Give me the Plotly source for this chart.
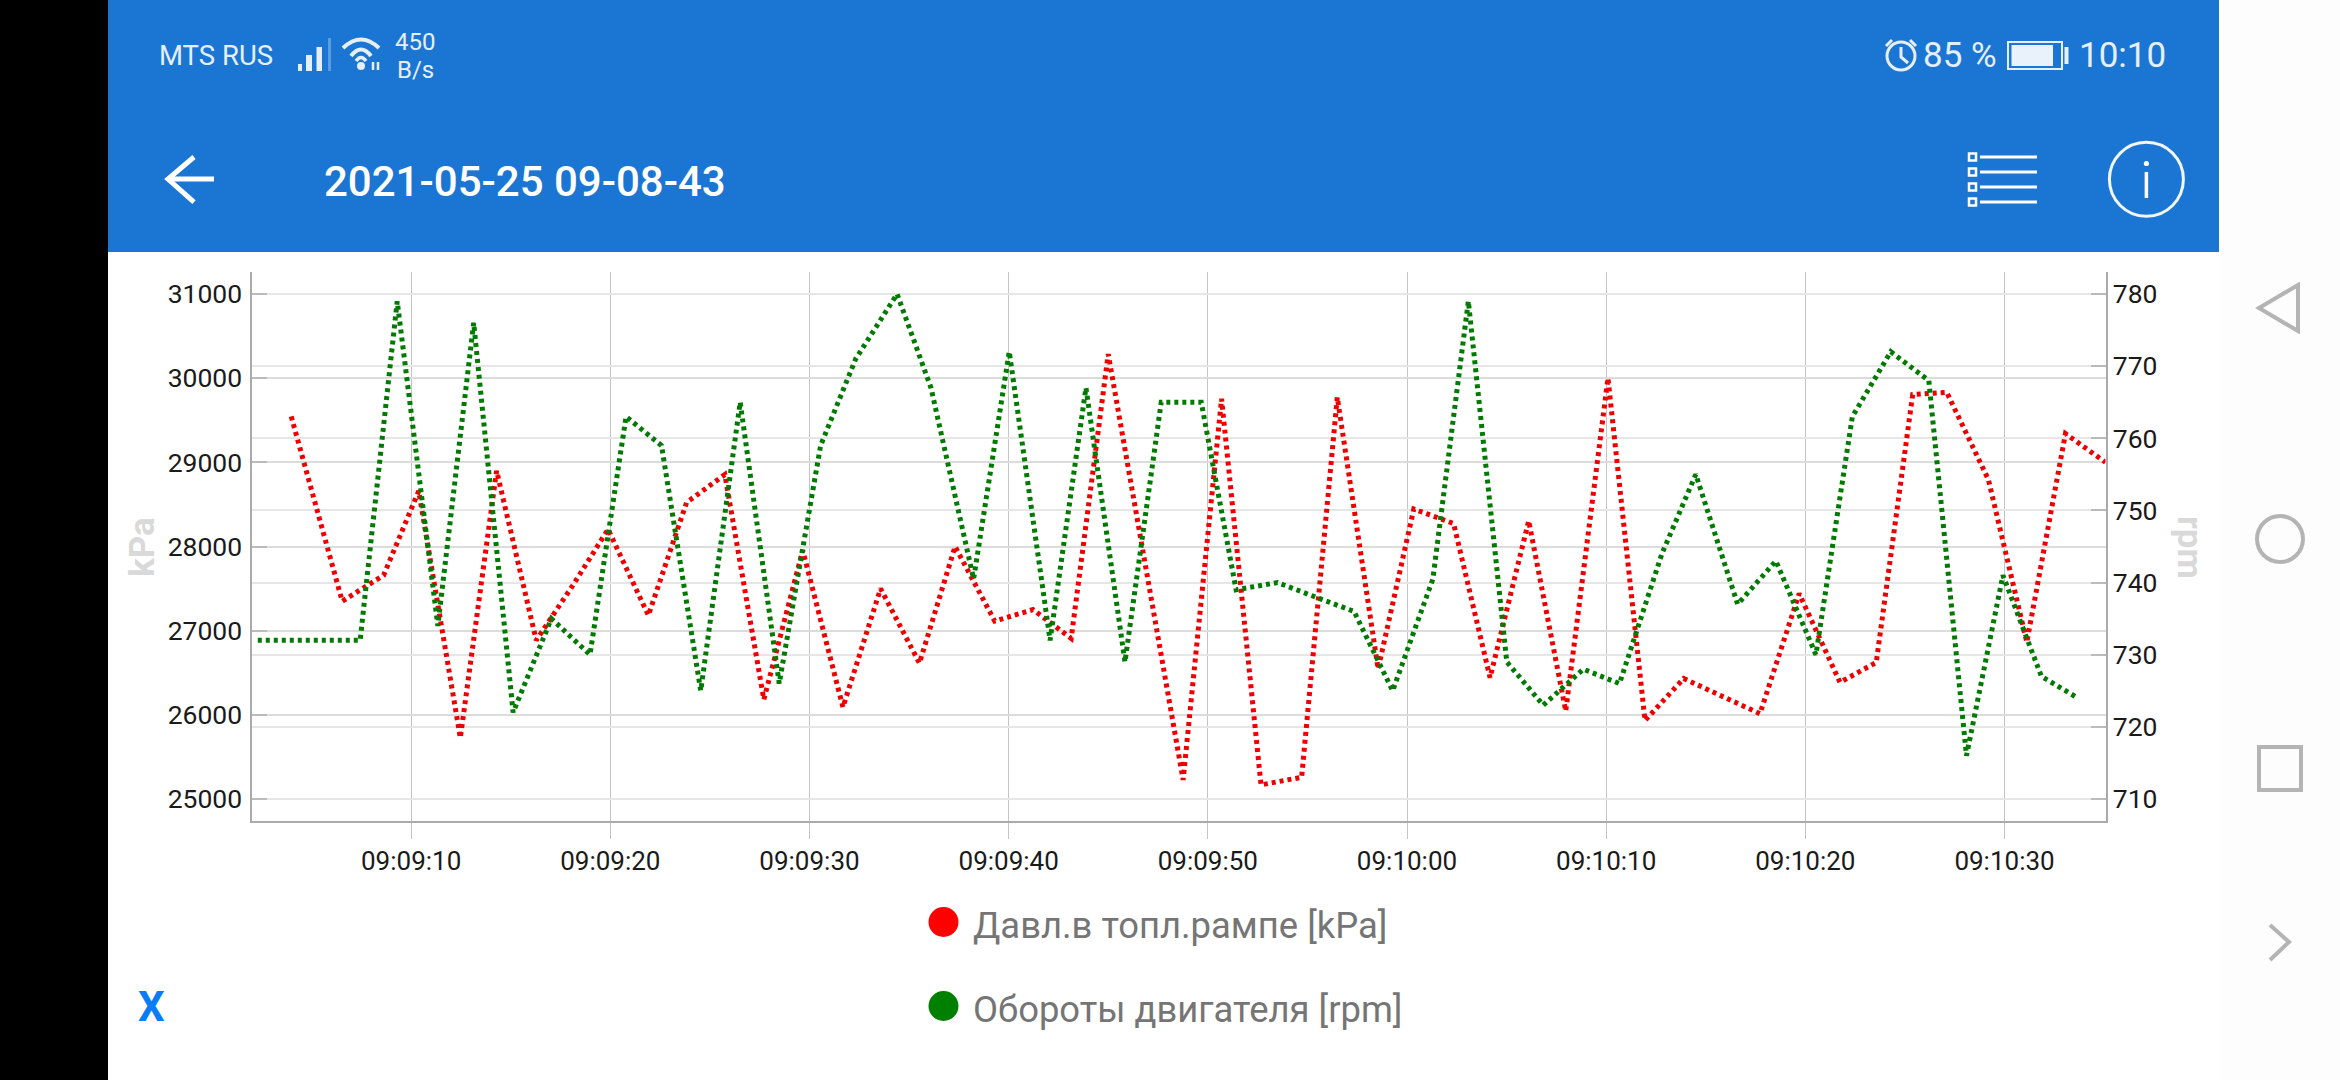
import datetime as dt
import plotly.graph_objects as go

# --- data ---
red_name = "Давл.в топл.рампе [kPa]"
green_name = "Обороты двигателя [rpm]"
red_seconds = [3.98, 6.54, 8.62, 10.38, 12.47, 14.29, 16.28, 18.1, 19.89, 21.91, 23.83, 25.75, 27.71, 29.66,
               31.68, 33.57, 35.52, 37.31, 39.3, 41.22, 43.14, 45.0, 46.9, 48.76, 50.69, 52.67, 54.71, 56.5,
               58.55, 60.34, 62.34, 64.17, 66.11, 67.97, 70.09, 71.95, 73.89, 75.8, 77.72, 79.69, 81.74, 83.56,
               85.39, 87.1, 89.19, 91.12, 93.06, 95.07]
red_values = [29545, 27350, 27659, 28659, 25727, 28900, 26886, 27532, 28205, 27182, 28523, 28855, 26182, 27955,
              26091, 27500, 26614, 28000, 27114, 27250, 26909, 30286, 27730, 25227, 29755, 25168, 25259, 29773,
              26545, 28445, 28273, 26441, 28305, 26045, 30000, 25932, 26432, 26227, 26014, 27441, 26386, 26623,
              29805, 29832, 28795, 26864, 29341, 29000]
green_seconds = [2.3, 4.0, 5.7, 7.44, 9.3, 11.34, 13.14, 15.12, 17.04, 18.98, 20.79, 22.57, 24.54, 26.52, 28.48,
                 30.56, 32.32, 34.4, 36.1, 38.24, 40.03, 42.08, 43.88, 45.84, 47.66, 49.67, 51.42, 53.5, 55.4,
                 57.34, 59.28, 61.3, 63.08, 65.01, 66.84, 68.85, 70.67, 72.8, 74.5, 76.6, 78.52, 80.53, 82.36,
                 84.29, 86.2, 88.09, 89.92, 91.85, 93.68]
green_values = [732, 732, 732, 732, 779, 734, 776, 722, 735, 730, 763, 759, 725, 765, 726,
                759, 771, 780, 767, 740.5, 772, 732, 767, 729, 765, 765, 739, 740, 738,
                736, 725, 740.5, 779, 729, 723, 728, 726, 744, 755, 737, 743, 730, 763,
                772, 768, 716, 741, 727, 724]
left_ticks = [25000, 26000, 27000, 28000, 29000, 30000, 31000]
right_ticks = [710, 720, 730, 740, 750, 760, 770, 780]
tick_seconds = [10, 20, 30, 40, 50, 60, 70, 80, 90]

W, H = 2340, 1080
BASE = dt.datetime(2021, 5, 25, 9, 9, 0)
def t(s):
    return BASE + dt.timedelta(seconds=s)
def X(x):
    return x / W
def Y(y):
    return 1 - y / H

BLUE = "#1b76d3"
ICON = "#e6eff9"
NAV = "#b4b4b4"
shapes = []
def rect(x0, y0, x1, y1, fill, line=None, lw=0):
    shapes.append(dict(type="rect", xref="paper", yref="paper", x0=X(x0), x1=X(x1), y0=Y(y0), y1=Y(y1),
                       fillcolor=fill, line=dict(color=line or fill, width=lw)))
def circle(cx, cy, r, fill=None, line=None, lw=0):
    shapes.append(dict(type="circle", xref="paper", yref="paper", x0=X(cx - r), x1=X(cx + r), y0=Y(cy - r), y1=Y(cy + r),
                       fillcolor=fill or "rgba(0,0,0,0)", line=dict(color=line or "rgba(0,0,0,0)", width=lw)))
def poly(points, color, lw, closed=False):
    path = "M " + " L ".join(f"{X(a):.5f},{Y(b):.5f}" for a, b in points) + (" Z" if closed else "")
    shapes.append(dict(type="path", xref="paper", yref="paper", path=path, line=dict(color=color, width=lw)))
def arc(p0, p1, p2, color, lw):
    path = f"M {X(p0[0]):.5f},{Y(p0[1]):.5f} Q {X(p1[0]):.5f},{Y(p1[1]):.5f} {X(p2[0]):.5f},{Y(p2[1]):.5f}"
    shapes.append(dict(type="path", xref="paper", yref="paper", path=path, line=dict(color=color, width=lw)))

# page chrome
rect(0, 0, 108, H, "#000000")
rect(2219, 0, W, H, "#fdfdfd")
rect(108, 0, 2219, 252, BLUE)
# signal bars
rect(298, 64, 302, 71, ICON)
rect(306, 55, 312, 71, ICON)
rect(316.5, 47, 322, 71, ICON)
rect(328, 38, 331, 71, "#5b9de0")
# wifi
arc((343, 48), (361, 31), (379, 48), ICON, 4)
arc((351, 56), (361, 43), (371, 56), ICON, 4)
arc((356, 61), (361, 54), (366, 61), ICON, 3.5)
circle(361, 66, 4, ICON)
poly([(373, 62), (373, 70)], ICON, 2.5)
poly([(378, 62), (378, 70)], ICON, 2.5)
# alarm clock
circle(1901, 56, 14, None, ICON, 3)
poly([(1901, 47), (1901, 57), (1908, 63)], ICON, 3)
poly([(1886, 46), (1892, 40)], ICON, 3)
poly([(1910, 40), (1916, 46)], ICON, 3)
# battery
shapes.append(dict(type="rect", xref="paper", yref="paper", x0=X(2008), x1=X(2062), y0=Y(42), y1=Y(69),
                   line=dict(color=ICON, width=2), fillcolor="rgba(0,0,0,0)"))
rect(2011.5, 45, 2053, 66, "#e9f1fb")
rect(2064.5, 47, 2068.5, 64, ICON)
# back arrow
poly([(194, 157), (168, 179), (194, 202)], "#ffffff", 5)
poly([(170, 179), (214, 179)], "#ffffff", 5)
# list icon
for yy in (157, 172, 187, 202):
    shapes.append(dict(type="rect", xref="paper", yref="paper", x0=X(1969), x1=X(1976), y0=Y(yy - 3.5), y1=Y(yy + 3.5),
                       line=dict(color="#ffffff", width=2.5), fillcolor="rgba(0,0,0,0)"))
    poly([(1980, yy), (2037, yy)], "#ffffff", 3)
# info icon
circle(2146.4, 179.3, 37, None, "#f2f6fc", 3)
poly([(2146.4, 172), (2146.4, 198)], "#ffffff", 3.5)
circle(2146.4, 163.5, 2.6, "#ffffff")
# navigation icons
poly([(2259, 308), (2298, 285), (2298, 331)], NAV, 4, closed=True)
circle(2280, 539, 23, None, NAV, 4)
rect(2259, 747, 2301, 790, "rgba(0,0,0,0)", NAV, 4)
poly([(2270, 925), (2289, 942), (2270, 960)], NAV, 4)
# legend dots
circle(943.5, 922, 15, "#ff0000")
circle(943.5, 1006, 15, "#008000")

def label(x, y, text, size, color, anchor="left", weight=None, angle=0):
    font = dict(family="Roboto", size=size, color=color)
    if weight:
        font["weight"] = weight
    return dict(xref="paper", yref="paper", x=X(x), y=Y(y), text=text, showarrow=False, xanchor=anchor,
                yanchor="middle", font=font, textangle=angle, borderpad=0, borderwidth=0)

annotations = [
    label(159, 56, "MTS RUS", 27.5, ICON),
    label(415, 42, "450", 24, ICON, "center"),
    label(415, 70, "B/s", 24, ICON, "center"),
    label(324, 181, "2021-05-25 09-08-43", 42, "#ffffff", weight=500),
    label(1923, 56, "85 %", 35, ICON),
    label(2079, 56, "10:10", 35, ICON),
    label(973, 925, red_name, 36.4, "#757575"),
    label(973, 1009, green_name, 36.4, "#757575"),
    label(151.5, 1006, "X", 42, "#0a7cf5", "center", weight=700),
    label(142, 547, "kPa", 35, "#d9d9d9", "center", weight=700, angle=-90),
    label(2190, 547, "rpm", 35, "#d9d9d9", "center", weight=700, angle=90),
]

fig = go.Figure()
dash = "4px,4px"
fig.add_trace(go.Scatter(x=[t(s) for s in red_seconds], y=red_values, name=red_name, mode="lines",
                         line=dict(color="#ee0000", width=5, dash=dash), yaxis="y"))
fig.add_trace(go.Scatter(x=[t(s) for s in green_seconds], y=green_values, name=green_name, mode="lines",
                         line=dict(color="#007a00", width=5, dash=dash), yaxis="y2"))

tickfont = dict(family="Roboto", size=26.5, color="#1a1a1a")
fig.update_layout(
    width=W, height=H, margin=dict(l=0, r=0, t=0, b=0), paper_bgcolor="#ffffff", plot_bgcolor="#ffffff",
    showlegend=False, shapes=shapes, annotations=annotations,
    xaxis=dict(type="date", domain=[X(252.4), X(2105.5)], range=[t(2.03), t(95.07)],
               tickvals=[t(s) for s in tick_seconds], tickformat="%H:%M:%S", tickfont=dict(family="Roboto", size=26, color="#1a1a1a"),
               ticks="outside", ticklen=16, tickcolor="#c4c4c4", tickwidth=1,
               showgrid=True, gridcolor="#c4c4c4", gridwidth=1, zeroline=False,
               showline=True, linecolor="#aaaaaa", linewidth=2),
    yaxis=dict(domain=[Y(821), Y(272)], range=[24739, 31261], tickvals=left_ticks, tickformat="d", tickfont=tickfont,
               ticklabelstandoff=3,
               ticks="inside", ticklen=15, tickcolor="#bbbbbb", tickwidth=2,
               showgrid=True, gridcolor="#dcdcdc", gridwidth=2, zeroline=False,
               showline=True, linecolor="#aaaaaa", linewidth=2),
    yaxis2=dict(domain=[Y(821), Y(272)], range=[706.95, 783.05], tickvals=right_ticks, tickfont=tickfont,
                overlaying="y", side="right", anchor="x",
                ticks="inside", ticklen=15, tickcolor="#bbbbbb", tickwidth=2,
                showgrid=True, gridcolor="#e6e6e6", gridwidth=2, zeroline=False,
                showline=True, linecolor="#aaaaaa", linewidth=2),
)
fig.write_html("out.html", config=dict(displayModeBar=False),
               post_script="document.body.style.margin='0';document.body.style.overflow='hidden';")
